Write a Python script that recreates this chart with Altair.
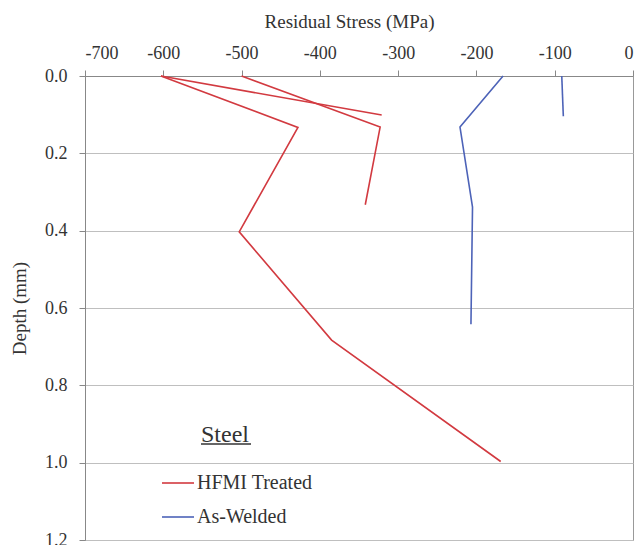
import altair as alt
import pandas as pd

# ---- data ----
hfmi_a_depth = [0.0, 0.133, 0.403, 0.683, 0.997]
hfmi_a_stress = [-603, -428, -503, -385, -169]
hfmi_b_depth = [0.0, 0.132, 0.333]
hfmi_b_stress = [-500, -323, -342]
hfmi_c_depth = [0.0, 0.101]
hfmi_c_stress = [-603, -321]
aw_a_depth = [0.0, 0.132, 0.339, 0.642]
aw_a_stress = [-166, -221, -205, -207]
aw_b_depth = [0.0, 0.104]
aw_b_stress = [-91, -89]

x_ticks = [-700, -600, -500, -400, -300, -200, -100, 0]
y_ticks = [0.0, 0.2, 0.4, 0.6, 0.8, 1.0, 1.2]
conditions = ["HFMI Treated", "As-Welded"]
colors = ["#d23a40", "#4d63b8"]

series = [
    ("h1", "HFMI Treated", hfmi_a_depth, hfmi_a_stress),
    ("h2", "HFMI Treated", hfmi_b_depth, hfmi_b_stress),
    ("h3", "HFMI Treated", hfmi_c_depth, hfmi_c_stress),
    ("a1", "As-Welded", aw_a_depth, aw_a_stress),
    ("a2", "As-Welded", aw_b_depth, aw_b_stress),
]
rows = []
for sid, cond, d, s in series:
    for i, (dd, ss) in enumerate(zip(d, s)):
        rows.append({"series": sid, "condition": cond, "depth": dd, "stress": ss, "idx": i})
df = pd.DataFrame(rows)

FONT = "'Liberation Serif', 'Times New Roman', 'DejaVu Serif', serif"
TXT = "#333333"

lines = alt.Chart(df).mark_line(strokeWidth=1.6).encode(
    x=alt.X(
        "stress:Q",
        scale=alt.Scale(domain=[-700, 0], nice=False, zero=False),
        axis=alt.Axis(
            orient="top", values=x_ticks, title="Residual Stress (MPa)", grid=False,
            labelExpr="datum.value == 0 ? '0' : '-' + abs(datum.value)",
            tickSize=6, labelPadding=8, labelFontSize=18,
            titleFontSize=19, titleX=264, titleY=-49, titleBaseline="alphabetic",
            titleAlign="center",
        ),
    ),
    y=alt.Y(
        "depth:Q",
        scale=alt.Scale(domain=[0, 1.2], reverse=True, nice=False, zero=False),
        axis=alt.Axis(
            values=y_ticks, format=".1f", title="Depth (mm)", grid=True,
            tickSize=6, labelPadding=12, labelFontSize=18,
            titleFontSize=19, titleX=-66, titleY=232, titleAngle=270,
            titleAlign="center", titleBaseline="middle",
        ),
    ),
    color=alt.Color(
        "condition:N",
        scale=alt.Scale(domain=conditions, range=colors),
        legend=alt.Legend(
            title=None, orient="none", legendX=76, legendY=390,
            symbolType="stroke", symbolSize=1024, symbolStrokeWidth=1.6,
            labelFont=FONT, labelFontSize=20, labelColor=TXT, labelOffset=2,
            rowPadding=7, padding=0,
        ),
    ),
    detail="series:N",
    order="idx:Q",
)

ann = pd.DataFrame({"t": ["Steel"]})
steel = alt.Chart(ann).mark_text(
    font=FONT, fontSize=24, align="left", baseline="alphabetic", color=TXT
).encode(text="t:N", x=alt.value(116), y=alt.value(366))
underline = alt.Chart(ann).mark_rule(color=TXT, strokeWidth=1.5).encode(
    x=alt.value(116), x2=alt.value(166), y=alt.value(368)
)

chart = alt.layer(lines, steel, underline).properties(
    width=548, height=464,
    autosize=alt.AutoSizeParams(type="none"),
    padding={"left": 85, "top": 76, "right": 3, "bottom": 5},
).configure_view(
    stroke="#999999", strokeWidth=1
).configure_axis(
    labelFont=FONT, titleFont=FONT, labelColor=TXT, titleColor=TXT,
    titleFontWeight="normal", domainColor="#888888", tickColor="#888888",
    gridColor="#bfbfbf", gridWidth=1, domainWidth=1,
)

chart.save("out.html", embed_options={"renderer": "svg", "actions": False})
